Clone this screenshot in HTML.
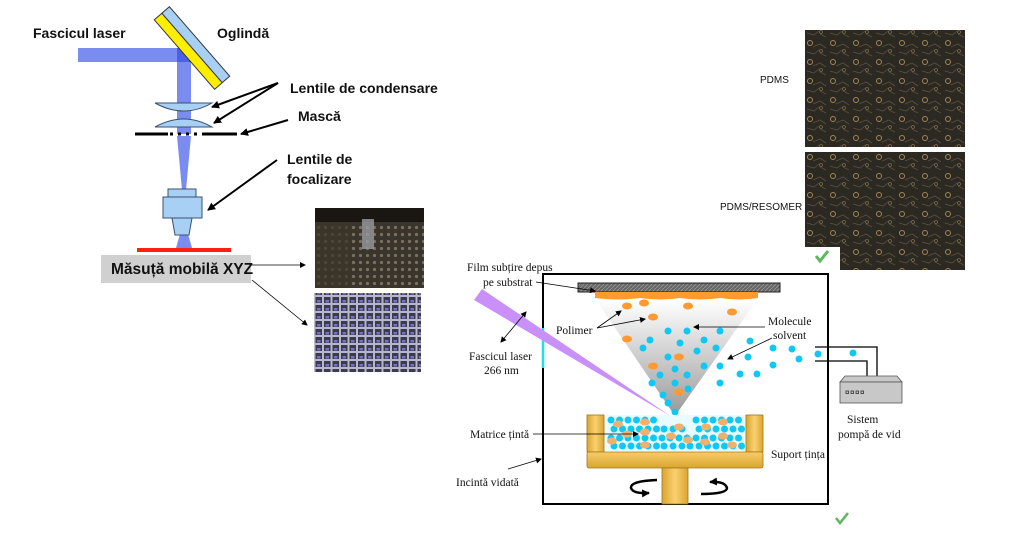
<!DOCTYPE html>
<html><head><meta charset="utf-8"><style>
html,body{margin:0;padding:0;background:#fff;}
svg{display:block}
.b{font-family:"Liberation Sans",sans-serif;font-weight:bold;font-size:14px;fill:#111}
.s{font-family:"Liberation Serif",serif;font-size:11.5px;fill:#111}
.a{font-family:"Liberation Sans",sans-serif;font-size:10px;fill:#111}
</style></head><body>
<svg width="1024" height="534" viewBox="0 0 1024 534" xmlns="http://www.w3.org/2000/svg">
<defs>
<marker id="ar" markerWidth="8" markerHeight="8" refX="7" refY="4" orient="auto" markerUnits="userSpaceOnUse"><path d="M0,0 L8,4 L0,8 z" fill="#000"/></marker>
<marker id="as" markerWidth="6" markerHeight="6" refX="5" refY="3" orient="auto" markerUnits="userSpaceOnUse"><path d="M0,0 L6,3 L0,6 z" fill="#000"/></marker>
<marker id="as2" markerWidth="6" markerHeight="6" refX="1" refY="3" orient="auto" markerUnits="userSpaceOnUse"><path d="M6,0 L0,3 L6,6 z" fill="#000"/></marker>
<linearGradient id="cone" x1="0" y1="0" x2="0" y2="1"><stop offset="0" stop-color="#fff"/><stop offset="1" stop-color="#999"/></linearGradient>
<linearGradient id="gold" x1="0" y1="0" x2="1" y2="0"><stop offset="0" stop-color="#d9a530"/><stop offset="0.5" stop-color="#fbd070"/><stop offset="1" stop-color="#d9a530"/></linearGradient>
<linearGradient id="goldv" x1="0" y1="0" x2="0" y2="1"><stop offset="0" stop-color="#f8cc6a"/><stop offset="1" stop-color="#d9a530"/></linearGradient>
<pattern id="cells" width="23" height="19" patternUnits="userSpaceOnUse"><rect width="23" height="19" fill="#2c2822"/><circle cx="5" cy="5" r="2.5" fill="none" stroke="#a08858" stroke-width="1"/><path d="M8 9 l7 -3 l6 4 M2 14 l7 2 l5 -4 M15 15 l6 3" stroke="#5a5040" stroke-width="0.8" fill="none"/><circle cx="16" cy="13" r="1.5" fill="none" stroke="#7a6a48" stroke-width="0.8"/></pattern>
<pattern id="grid1" width="7" height="7" patternUnits="userSpaceOnUse"><rect width="7" height="7" fill="#3a352c"/><circle cx="3.5" cy="3.5" r="1.6" fill="#7a705c"/></pattern>
<pattern id="grid2" width="8.5" height="8" patternUnits="userSpaceOnUse"><rect width="8.5" height="8" fill="#b8b8c8"/><rect x="1" y="1" width="6.5" height="6" fill="#3a3a50"/><rect x="2.5" y="4" width="3.5" height="2.5" fill="#7a72c0"/></pattern>
<pattern id="hatch" width="4" height="4" patternUnits="userSpaceOnUse"><rect width="4" height="4" fill="#666"/><path d="M0,4 L4,0" stroke="#999" stroke-width="0.8"/></pattern>
</defs>

<!-- LEFT DIAGRAM -->
<rect x="78" y="48" width="113" height="14" fill="#7b8cf0"/>
<rect x="177" y="48" width="14" height="86" fill="#7b8cf0"/>
<rect x="177" y="48" width="14" height="14" fill="#4a60e8"/>
<polygon points="177,136 191,136 186,190 182,190" fill="#7b8cf0"/>
<polygon points="180,234 188,234 192,248 176,248" fill="#7b8cf0"/>
<g transform="translate(192,48) rotate(49)">
<rect x="-46" y="-10" width="92" height="10" fill="#a8d0f4" stroke="#333" stroke-width="1"/>
<rect x="-46" y="0" width="92" height="10" fill="#ffee00" stroke="#333" stroke-width="1"/>
</g>
<path d="M155,103 L212,103 Q184,119 155,103 z" fill="#a8d0f4" stroke="#3a5070" stroke-width="1"/>
<path d="M155,127 L212,127 Q184,111 155,127 z" fill="#a8d0f4" stroke="#3a5070" stroke-width="1"/>
<line x1="135" y1="134" x2="168" y2="134" stroke="#000" stroke-width="3"/>
<line x1="170" y1="134" x2="200" y2="134" stroke="#000" stroke-width="3" stroke-dasharray="3,5"/>
<line x1="202" y1="134" x2="237" y2="134" stroke="#000" stroke-width="3"/>
<rect x="168" y="189" width="28" height="8" fill="#a8d0f4" stroke="#3a5070" stroke-width="1"/>
<rect x="163" y="197" width="39" height="21" fill="#a8d0f4" stroke="#3a5070" stroke-width="1"/>
<polygon points="172,218 192,218 189,235 175,235" fill="#a8d0f4" stroke="#3a5070" stroke-width="1"/>
<rect x="137" y="248" width="94" height="4" fill="#ff2010"/>
<rect x="101" y="255" width="150" height="28" fill="#d0d0d0"/>
<text class="b" x="111" y="274" style="font-size:15.5px">Măsuță mobilă XYZ</text>
<text class="b" x="33" y="38">Fascicul laser</text>
<text class="b" x="217" y="38">Oglindă</text>
<text class="b" x="290" y="93">Lentile de condensare</text>
<text class="b" x="298" y="121">Mască</text>
<text class="b" x="287" y="164">Lentile de</text>
<text class="b" x="287" y="184">focalizare</text>
<g stroke="#000" stroke-width="2" fill="none">
<line x1="278" y1="83" x2="212" y2="107" marker-end="url(#ar)"/>
<line x1="278" y1="83" x2="214" y2="123" marker-end="url(#ar)"/>
<line x1="288" y1="120" x2="241" y2="134" marker-end="url(#ar)"/>
<line x1="277" y1="160" x2="208" y2="210" marker-end="url(#ar)"/>
</g>
<line x1="252" y1="265" x2="305" y2="265" stroke="#000" stroke-width="0.8" marker-end="url(#as)"/>
<line x1="252" y1="280" x2="307" y2="325" stroke="#000" stroke-width="0.8" marker-end="url(#as)"/>
<rect x="315" y="208" width="109" height="80" fill="url(#grid1)"/>
<rect x="315" y="208" width="109" height="14" fill="#1a1712"/>
<rect x="315" y="222" width="36" height="66" fill="#3a3428" opacity="0.7"/>
<rect x="362" y="219" width="12" height="30" fill="#9a9aa0" opacity="0.8"/>
<rect x="314" y="293" width="107" height="79" fill="url(#grid2)"/>

<!-- RIGHT IMAGES -->
<rect x="805" y="30" width="160" height="117" fill="url(#cells)"/>
<rect x="805" y="152" width="160" height="118" fill="url(#cells)"/>
<rect x="805" y="247" width="35" height="23" fill="#fff"/>
<path d="M816,256 l4,5 l8,-10" stroke="#5cb85c" stroke-width="3" fill="none"/>
<text class="a" x="760" y="83">PDMS</text>
<text class="a" x="720" y="210">PDMS/RESOMER</text>

<!-- CHAMBER -->
<rect x="543" y="274" width="285" height="230" fill="#fff" stroke="#000" stroke-width="2"/>
<line x1="543" y1="328" x2="543" y2="368" stroke="#20e0f0" stroke-width="2.5"/>
<polygon points="596,300 757,300 675,416" fill="url(#cone)"/>
<polygon points="474,300 482,289 672,417" fill="#c890f8"/>
<rect x="578" y="283" width="202" height="9" fill="url(#hatch)" stroke="#222" stroke-width="1"/>
<path d="M595,292 L758,292 L758,298 Q740,301 720,298 Q700,301 680,298 Q660,301 640,298 Q620,301 595,298 z" fill="#ff9a30"/>
<g fill="#ff9a30">
<ellipse cx="627" cy="306" rx="5" ry="3.5"/><ellipse cx="644" cy="303" rx="5" ry="3.5"/><ellipse cx="688" cy="306" rx="5" ry="3.5"/><ellipse cx="732" cy="312" rx="5" ry="3.5"/><ellipse cx="653" cy="317" rx="5" ry="3.5"/><ellipse cx="627" cy="339" rx="5" ry="3.5"/><ellipse cx="679" cy="357" rx="5" ry="3.5"/><ellipse cx="653" cy="366" rx="5" ry="3.5"/><ellipse cx="679" cy="392" rx="5" ry="3.5"/>
</g>
<g fill="#10c8f4">
<circle cx="668" cy="331" r="3.5"/><circle cx="687" cy="331" r="3.5"/><circle cx="720" cy="331" r="3.5"/><circle cx="650" cy="340" r="3.5"/><circle cx="680" cy="343" r="3.5"/><circle cx="704" cy="340" r="3.5"/><circle cx="643" cy="348" r="3.5"/><circle cx="697" cy="351" r="3.5"/><circle cx="716" cy="348" r="3.5"/><circle cx="668" cy="357" r="3.5"/><circle cx="704" cy="366" r="3.5"/><circle cx="720" cy="366" r="3.5"/><circle cx="675" cy="369" r="3.5"/><circle cx="660" cy="375" r="3.5"/><circle cx="687" cy="375" r="3.5"/><circle cx="652" cy="383" r="3.5"/><circle cx="675" cy="383" r="3.5"/><circle cx="688" cy="389" r="3.5"/><circle cx="663" cy="395" r="3.5"/><circle cx="668" cy="403" r="3.5"/><circle cx="675" cy="412" r="3.5"/><circle cx="720" cy="383" r="3.5"/>
<circle cx="750" cy="341" r="3.5"/><circle cx="740" cy="374" r="3.5"/><circle cx="757" cy="374" r="3.5"/><circle cx="748" cy="357" r="3.5"/><circle cx="773" cy="348" r="3.5"/><circle cx="792" cy="349" r="3.5"/><circle cx="799" cy="359" r="3.5"/><circle cx="773" cy="365" r="3.5"/><circle cx="818" cy="354" r="3.5"/><circle cx="853" cy="353" r="3.5"/>
</g>
<!-- target -->
<rect x="604" y="415" width="142" height="36" fill="#e8fbff"/>
<g fill="#10c8f4" id="mrow">
<circle cx="611" cy="420" r="3.5"/><circle cx="619.5" cy="420" r="3.5"/><circle cx="628" cy="420" r="3.5"/><circle cx="636.5" cy="420" r="3.5"/><circle cx="645" cy="420" r="3.5"/><circle cx="653.5" cy="420" r="3.5"/><circle cx="696" cy="420" r="3.5"/><circle cx="704.5" cy="420" r="3.5"/><circle cx="713" cy="420" r="3.5"/><circle cx="721.5" cy="420" r="3.5"/><circle cx="730" cy="420" r="3.5"/><circle cx="738.5" cy="420" r="3.5"/>
</g>
<use href="#mrow" transform="translate(3,9)"/>
<use href="#mrow" transform="translate(0,18)"/>
<use href="#mrow" transform="translate(3,26)"/>
<g fill="#10c8f4">
<circle cx="664" cy="429" r="3.5"/><circle cx="673" cy="429" r="3.5"/><circle cx="682" cy="429" r="3.5"/><circle cx="662" cy="438" r="3.5"/><circle cx="670" cy="438" r="3.5"/><circle cx="679" cy="438" r="3.5"/><circle cx="687" cy="438" r="3.5"/><circle cx="664" cy="446" r="3.5"/><circle cx="673" cy="446" r="3.5"/><circle cx="682" cy="446" r="3.5"/><circle cx="690" cy="446" r="3.5"/>
</g>
<g fill="#f0b070">
<ellipse cx="618" cy="424" rx="5" ry="3.5"/><ellipse cx="645" cy="422" rx="5" ry="3.5"/><ellipse cx="679" cy="427" rx="5" ry="3.5"/><ellipse cx="706" cy="427" rx="5" ry="3.5"/><ellipse cx="723" cy="422" rx="5" ry="3.5"/><ellipse cx="627" cy="434" rx="5" ry="3.5"/><ellipse cx="645" cy="432" rx="5" ry="3.5"/><ellipse cx="671" cy="436" rx="5" ry="3.5"/><ellipse cx="723" cy="436" rx="5" ry="3.5"/><ellipse cx="612" cy="441" rx="5" ry="3.5"/><ellipse cx="645" cy="445" rx="5" ry="3.5"/><ellipse cx="688" cy="440" rx="5" ry="3.5"/><ellipse cx="705" cy="442" rx="5" ry="3.5"/><ellipse cx="732" cy="445" rx="5" ry="3.5"/>
</g>
<rect x="587" y="415" width="17" height="37" fill="url(#gold)" stroke="#a07818" stroke-width="0.8"/>
<rect x="746" y="415" width="17" height="37" fill="url(#gold)" stroke="#a07818" stroke-width="0.8"/>
<rect x="587" y="452" width="176" height="16" rx="2" fill="url(#goldv)" stroke="#a07818" stroke-width="0.8"/>
<rect x="662" y="468" width="26" height="36" fill="url(#gold)" stroke="#a07818" stroke-width="0.8"/>
<path d="M657,480 Q630,481 631,488 Q633,494 649,493" stroke="#000" stroke-width="2.5" fill="none" marker-end="url(#ar)"/>
<path d="M701,494 Q727,494 727,488 Q725,481 710,482" stroke="#000" stroke-width="2.5" fill="none" marker-end="url(#ar)"/>
<!-- pipe & pump -->
<polyline points="815,347 877,347 877,377" fill="none" stroke="#000" stroke-width="1.3"/>
<polyline points="815,361 867,361 867,377" fill="none" stroke="#000" stroke-width="1.3"/>
<polygon points="845,376 897,376 902,382 840,382" fill="#c8c8c8" stroke="#555" stroke-width="0.8"/>
<rect x="840" y="382" width="62" height="21" fill="#c8c8c8" stroke="#555" stroke-width="0.8"/>
<g fill="none" stroke="#333" stroke-width="0.8"><rect x="846" y="391" width="2.5" height="2.5"/><rect x="851" y="391" width="2.5" height="2.5"/><rect x="856" y="391" width="2.5" height="2.5"/><rect x="861" y="391" width="2.5" height="2.5"/></g>
<!-- labels -->
<text class="s" x="467" y="271">Film subțire depus</text>
<text class="s" x="483" y="286">pe substrat</text>
<line x1="536" y1="282" x2="595" y2="291" stroke="#000" stroke-width="0.8" marker-end="url(#as)"/>
<text class="s" x="556" y="334">Polimer</text>
<line x1="597" y1="328" x2="621" y2="311" stroke="#000" stroke-width="0.8" marker-end="url(#as)"/>
<line x1="597" y1="328" x2="645" y2="319" stroke="#000" stroke-width="0.8" marker-end="url(#as)"/>
<text class="s" x="768" y="325">Molecule</text>
<text class="s" x="773" y="339">solvent</text>
<line x1="765" y1="327" x2="694" y2="327" stroke="#000" stroke-width="0.8" marker-end="url(#as)"/>
<line x1="772" y1="338" x2="728" y2="359" stroke="#000" stroke-width="0.8" marker-end="url(#as)"/>
<line x1="526" y1="312" x2="501" y2="342" stroke="#000" stroke-width="0.8" marker-end="url(#as)" marker-start="url(#as2)"/>
<text class="s" x="469" y="360">Fascicul laser</text>
<text class="s" x="484" y="374">266 nm</text>
<text class="s" x="470" y="438">Matrice țintă</text>
<line x1="533" y1="434" x2="638" y2="434" stroke="#000" stroke-width="0.8" marker-end="url(#as)"/>
<text class="s" x="771" y="458">Suport țința</text>
<text class="s" x="456" y="486">Incintă vidată</text>
<line x1="508" y1="469" x2="541" y2="459" stroke="#000" stroke-width="0.8" marker-end="url(#as)"/>
<text class="s" x="847" y="423">Sistem</text>
<text class="s" x="838" y="438">pompă de vid</text>
<path d="M836,518 l4,5 l8,-10" stroke="#5cb85c" stroke-width="2.5" fill="none"/>
</svg>
</body></html>
